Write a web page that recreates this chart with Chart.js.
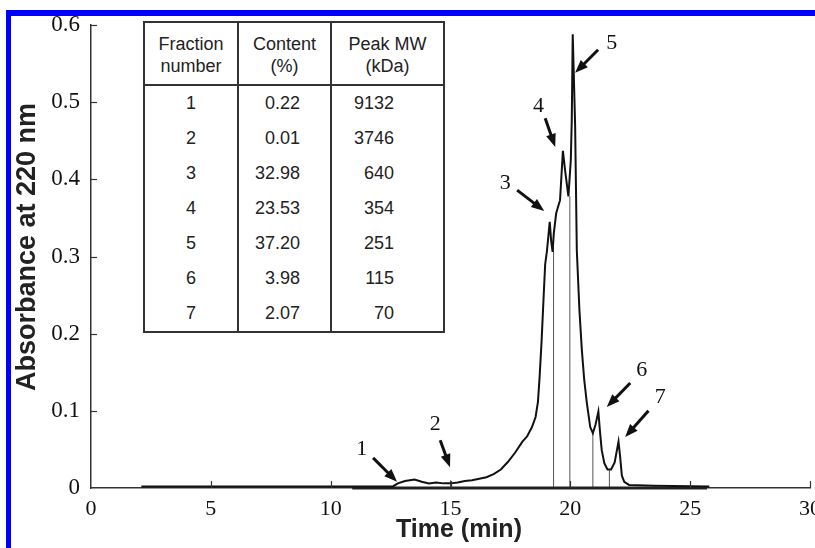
<!DOCTYPE html>
<html><head><meta charset="utf-8">
<script src="https://cdn.jsdelivr.net/npm/chart.js@4.4.1/dist/chart.umd.min.js"></script>
<style>
html,body{margin:0;padding:0;background:#fff;overflow:hidden;width:815px;height:548px;}
#wrap{position:relative;width:815px;height:548px;overflow:hidden;background:#fff;}
#c{position:absolute;left:0;top:0;}
.bar{position:absolute;background:#0000ff;}
#tbl{position:absolute;left:143px;top:21px;border-collapse:collapse;table-layout:fixed;width:300px;
 font-family:"Liberation Sans",Arial,sans-serif;font-size:18px;color:#222;background:#fff;}
#tbl td,#tbl th{padding:0;border-left:2px solid #333;border-right:2px solid #333;font-weight:normal;}
#tbl thead th{height:59px;border-top:2px solid #333;border-bottom:2px solid #333;text-align:center;line-height:22px;padding-top:2px;}
#tbl tbody td{height:35px;line-height:35px;}
#tbl tbody tr:last-child td{border-bottom:2px solid #333;}
#tbl td.c1{text-align:center;}
#tbl td.c2{text-align:right;padding-right:30px;}
#tbl td.c3{text-align:right;padding-right:49px;}
</style></head>
<body>
<div id="wrap">
<canvas id="c" width="840" height="548"></canvas>
<div class="bar" style="left:6px;top:10px;width:809px;height:6px;"></div>
<div class="bar" style="left:6px;top:10px;width:5px;height:538px;"></div>
<table id="tbl">
<colgroup><col style="width:94px"><col style="width:93px"><col style="width:113px"></colgroup>
<thead><tr id="hdr"></tr></thead>
<tbody id="body"></tbody>
</table>
</div>
<script>
// ---- chromatogram trace (time in min, absorbance at 220 nm) ----
const timeMin = [2.1,12.6,12.8,13.1,13.5,13.8,14.1,14.4,14.7,15.0,15.3,15.6,15.9,16.2,16.5,16.8,17.1,17.4,17.7,18.0,18.2,18.4,18.55,18.65,18.72,18.80,18.88,18.95,19.02,19.08,19.14,19.20,19.26,19.31,19.41,19.57,19.69,19.78,19.92,20.02,20.06,20.10,20.20,20.27,20.38,20.48,20.58,20.69,20.83,20.94,21.05,21.17,21.24,21.31,21.42,21.55,21.70,21.85,21.95,22.01,22.08,22.15,22.25,22.45,23.5,25.8];
const absorbance = [0.002,0.002,0.006,0.009,0.011,0.008,0.006,0.007,0.006,0.006,0.007,0.009,0.010,0.012,0.014,0.018,0.024,0.034,0.046,0.060,0.067,0.079,0.092,0.112,0.145,0.190,0.244,0.290,0.306,0.325,0.345,0.320,0.306,0.330,0.356,0.373,0.437,0.412,0.378,0.425,0.477,0.588,0.470,0.308,0.230,0.179,0.140,0.110,0.079,0.071,0.082,0.099,0.072,0.049,0.032,0.024,0.024,0.033,0.050,0.060,0.040,0.016,0.008,0.004,0.003,0.002];
// integration baseline
const baselineTime = [10.9, 25.7];
const baselineAbs = [0, 0];
// fraction cut lines
const cutTime = [15.0, 19.30, 19.98, 20.94, 21.63];
const cutTop = [0.010, 0.312, 0.378, 0.071, 0.023];
// ticks
const xTicks = [0,5,10,15,20,25,30];
const yTicks = [0,0.1,0.2,0.3,0.4,0.5,0.6];
// table
const tableHeader = [["Fraction","number"],["Content","(%)"],["Peak MW","(kDa)"]];
const fractionNumber = ["1","2","3","4","5","6","7"];
const contentPct = ["0.22","0.01","32.98","23.53","37.20","3.98","2.07"];
const peakMW = ["9132","3746","640","354","251","115","70"];
// peak annotations (data coordinates)
const peakLabel = ["1","2","3","4","5","6","7"];
const labelT = [11.30,14.36,17.28,18.67,21.73,22.98,23.75];
const labelA = [0.050,0.083,0.395,0.495,0.577,0.153,0.117];
const arrowFromT = [11.77,14.57,17.78,18.95,21.16,22.50,23.26];
const arrowFromA = [0.039,0.062,0.386,0.479,0.568,0.136,0.100];
const arrowToT = [12.77,14.98,18.91,19.37,20.20,21.52,22.29];
const arrowToA = [0.008,0.027,0.359,0.442,0.538,0.105,0.066];

// build table
const hdr = document.getElementById('hdr');
tableHeader.forEach(h => { const th = document.createElement('th'); th.innerHTML = h[0] + '<br>' + h[1]; hdr.appendChild(th); });
const body = document.getElementById('body');
fractionNumber.forEach((f,i) => {
  const tr = document.createElement('tr');
  [[f,'c1'],[contentPct[i],'c2'],[peakMW[i],'c3']].forEach(([t,c]) => { const td=document.createElement('td'); td.className=c; td.textContent=t; tr.appendChild(td); });
  body.appendChild(tr);
});

const mainData = timeMin.map((t,i)=>({x:t,y:absorbance[i]}));
const datasets = [{
  data: mainData, borderColor:'#111', borderWidth:2, pointRadius:0, tension:0, clip:false, order:0
},{
  data: baselineTime.map((t,i)=>({x:t,y:baselineAbs[i]})), borderColor:'#222', borderWidth:3, pointRadius:0, clip:false, order:1
}];
cutTime.forEach((t,i)=>{
  datasets.push({data:[{x:t,y:0},{x:t,y:cutTop[i]}], borderColor:'#555', borderWidth:1, pointRadius:0, clip:false, order:2});
});

const decor = {
  id:'decor',
  afterDraw(chart){
    const ctx = chart.ctx, xs = chart.scales.x, ys = chart.scales.y;
    const L = xs.getPixelForValue(0), B = ys.getPixelForValue(0);
    ctx.save();
    // inward ticks
    ctx.strokeStyle = '#333'; ctx.lineWidth = 1.2;
    yTicks.forEach(v => { if (v===0) return; const y = Math.round(ys.getPixelForValue(v))+0.5; ctx.beginPath(); ctx.moveTo(L,y); ctx.lineTo(L+6,y); ctx.stroke(); });
    xTicks.forEach(v => { if (v===0) return; const x = Math.round(xs.getPixelForValue(v))+0.5; ctx.beginPath(); ctx.moveTo(x,B); ctx.lineTo(x,B-7); ctx.stroke(); });
    // annotations
    ctx.fillStyle = '#111'; ctx.strokeStyle = '#111';
    ctx.font = '22px "Liberation Serif", "Times New Roman", serif';
    ctx.textAlign = 'center'; ctx.textBaseline = 'middle';
    peakLabel.forEach((s,i) => ctx.fillText(s, xs.getPixelForValue(labelT[i]), ys.getPixelForValue(labelA[i])));
    peakLabel.forEach((s,i) => {
      const x0 = xs.getPixelForValue(arrowFromT[i]), y0 = ys.getPixelForValue(arrowFromA[i]);
      const x1 = xs.getPixelForValue(arrowToT[i]), y1 = ys.getPixelForValue(arrowToA[i]);
      const ang = Math.atan2(y1-y0, x1-x0), hl = 13, hw = 5;
      const bx = x1 - hl*Math.cos(ang), by = y1 - hl*Math.sin(ang);
      ctx.lineWidth = 3; ctx.beginPath(); ctx.moveTo(x0,y0); ctx.lineTo(bx + 3*Math.cos(ang), by + 3*Math.sin(ang)); ctx.stroke();
      ctx.beginPath(); ctx.moveTo(x1,y1);
      ctx.lineTo(bx - hw*Math.sin(ang), by + hw*Math.cos(ang));
      ctx.lineTo(bx + hw*Math.sin(ang), by - hw*Math.cos(ang));
      ctx.closePath(); ctx.fill();
    });
    // axis titles
    ctx.fillStyle = '#222';
    ctx.font = 'bold 25px "Liberation Sans", Arial, sans-serif';
    ctx.fillText('Time (min)', 459, 530);
    ctx.translate(28, 247); ctx.rotate(-Math.PI/2);
    ctx.font = 'bold 27px "Liberation Sans", Arial, sans-serif';
    ctx.fillText('Absorbance at 220 nm', 0, 0);
    ctx.restore();
  }
};

new Chart(document.getElementById('c'), {
  type:'line',
  data:{datasets},
  options:{
    responsive:false, animation:false, devicePixelRatio:1,
    layout:{padding:{left:0,top:25,right:30,bottom:0}},
    plugins:{legend:{display:false}, tooltip:{enabled:false}},
    scales:{
      x:{type:'linear', min:0, max:30,
        afterBuildTicks: s => { s.ticks = xTicks.map(v=>({value:v})); },
        afterFit: s => { s.height = 60; },
        grid:{display:false, drawTicks:false},
        border:{display:true, color:'#333', width:1.5},
        ticks:{padding:8, color:'#111', font:{family:'"Liberation Serif", "Times New Roman", serif', size:22}, maxRotation:0, autoSkip:false, callback:v=>String(v)}
      },
      y:{type:'linear', min:0, max:0.6,
        afterBuildTicks: s => { s.ticks = yTicks.map(v=>({value:v})); },
        afterFit: s => { s.width = 91; },
        grid:{display:false, drawTicks:false},
        border:{display:true, color:'#333', width:1.5},
        ticks:{padding:11, color:'#111', font:{family:'"Liberation Serif", "Times New Roman", serif', size:23}, callback:v=> v===0 ? '0' : v.toFixed(1)}
      }
    }
  },
  plugins:[decor]
});
</script>
</body></html>
